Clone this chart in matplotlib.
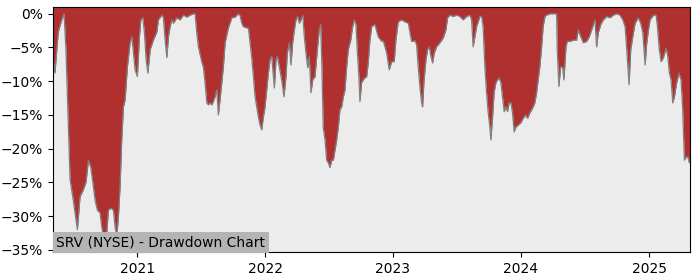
import matplotlib
matplotlib.use("Agg")
import matplotlib.pyplot as plt
import matplotlib.dates as mdates
from matplotlib.ticker import FuncFormatter
import datetime as dt

title = "SRV (NYSE) - Drawdown Chart"

# dates as decimal years, drawdown in percent
years = [
    2020.344, 2020.359, 2020.385, 2020.412, 2020.430, 2020.445, 2020.463, 2020.477, 2020.502, 2020.523,
    2020.534, 2020.555, 2020.580, 2020.602, 2020.620, 2020.638, 2020.654, 2020.672, 2020.690, 2020.711,
    2020.724, 2020.742, 2020.750, 2020.763, 2020.776, 2020.795, 2020.815, 2020.828, 2020.841, 2020.854,
    2020.867, 2020.880, 2020.893, 2020.906, 2020.924, 2020.945, 2020.959, 2020.971, 2020.984, 2021.002,
    2021.018, 2021.029, 2021.045, 2021.057, 2021.070, 2021.084, 2021.102, 2021.127, 2021.154, 2021.166,
    2021.193, 2021.205, 2021.219, 2021.232, 2021.245, 2021.258, 2021.271, 2021.284, 2021.310, 2021.336,
    2021.362, 2021.388, 2021.414, 2021.440, 2021.453, 2021.466, 2021.479, 2021.505, 2021.518, 2021.531,
    2021.545, 2021.557, 2021.570, 2021.584, 2021.596, 2021.609, 2021.623, 2021.635, 2021.648, 2021.662,
    2021.674, 2021.688, 2021.713, 2021.740, 2021.766, 2021.791, 2021.805, 2021.818, 2021.830, 2021.857,
    2021.870, 2021.883, 2021.896, 2021.909, 2021.922, 2021.935, 2021.948, 2021.961, 2021.974, 2021.987,
    2022.000, 2022.013, 2022.026, 2022.039, 2022.052, 2022.065, 2022.073, 2022.086, 2022.096, 2022.112,
    2022.130, 2022.148, 2022.164, 2022.174, 2022.190, 2022.203, 2022.216, 2022.229, 2022.242, 2022.255,
    2022.268, 2022.281, 2022.295, 2022.307, 2022.320, 2022.334, 2022.346, 2022.359, 2022.373, 2022.391,
    2022.409, 2022.424, 2022.435, 2022.445, 2022.455, 2022.469, 2022.482, 2022.495, 2022.508, 2022.521,
    2022.534, 2022.547, 2022.560, 2022.573, 2022.586, 2022.599, 2022.612, 2022.625, 2022.638, 2022.651,
    2022.670, 2022.685, 2022.698, 2022.711, 2022.721, 2022.734, 2022.742, 2022.755, 2022.768, 2022.781,
    2022.795, 2022.807, 2022.820, 2022.834, 2022.859, 2022.885, 2022.912, 2022.924, 2022.951, 2022.971,
    2022.990, 2023.010, 2023.023, 2023.041, 2023.068, 2023.094, 2023.120, 2023.133, 2023.146, 2023.172,
    2023.185, 2023.198, 2023.211, 2023.224, 2023.232, 2023.242, 2023.258, 2023.271, 2023.284, 2023.297,
    2023.310, 2023.323, 2023.341, 2023.367, 2023.393, 2023.414, 2023.427, 2023.445, 2023.471, 2023.498,
    2023.523, 2023.549, 2023.576, 2023.602, 2023.615, 2023.627, 2023.641, 2023.654, 2023.680, 2023.693,
    2023.705, 2023.719, 2023.732, 2023.745, 2023.758, 2023.766, 2023.779, 2023.791, 2023.805, 2023.818,
    2023.830, 2023.844, 2023.857, 2023.870, 2023.883, 2023.896, 2023.909, 2023.922, 2023.935, 2023.948,
    2023.961, 2023.979, 2023.998, 2024.018, 2024.037, 2024.052, 2024.070, 2024.091, 2024.109, 2024.123,
    2024.135, 2024.148, 2024.162, 2024.174, 2024.188, 2024.201, 2024.227, 2024.266, 2024.279, 2024.284,
    2024.297, 2024.310, 2024.326, 2024.336, 2024.352, 2024.362, 2024.383, 2024.409, 2024.435, 2024.448,
    2024.461, 2024.487, 2024.513, 2024.534, 2024.552, 2024.578, 2024.591, 2024.604, 2024.623, 2024.643,
    2024.670, 2024.695, 2024.721, 2024.748, 2024.773, 2024.795, 2024.813, 2024.826, 2024.844, 2024.857,
    2024.873, 2024.891, 2024.916, 2024.935, 2024.951, 2024.969, 2024.982, 2024.995, 2025.008, 2025.034,
    2025.055, 2025.065, 2025.080, 2025.094, 2025.112, 2025.133, 2025.146, 2025.159, 2025.172, 2025.185,
    2025.198, 2025.216, 2025.234, 2025.250, 2025.263, 2025.276, 2025.289, 2025.302, 2025.315, 2025.320,
]

drawdown = [
    -6.5, -8.8, -2.7, -0.9, 0.0, -5.3, -16.2, -24.6, -27.6, -30.5,
    -32.0, -27.1, -26.1, -24.9, -21.7, -22.7, -24.9, -27.6, -29.1, -29.5,
    -31.6, -33.5, -35.0, -32.5, -29.1, -28.8, -29.1, -31.6, -33.0, -30.1,
    -25.6, -18.7, -13.8, -12.8, -7.9, -4.3, -3.4, -5.8, -8.3, -9.3,
    -3.4, -0.9, -0.6, -2.8, -6.8, -8.8, -5.3, -3.9, -2.7, -0.9,
    -0.2, -0.5, -3.9, -6.5, -3.4, -1.9, -0.9, -1.4, -0.6, -0.9,
    -0.2, -0.5, -0.2, 0.0, 0.0, -2.8, -4.9, -7.1, -7.9, -10.2,
    -13.2, -13.5, -13.2, -13.5, -13.0, -12.3, -11.3, -15.0, -12.8, -10.2,
    -7.9, -4.3, -2.1, -0.6, -0.5, 0.0, -0.3, -1.4, -1.9, -2.1,
    -2.1, -4.3, -6.5, -9.3, -12.3, -13.8, -15.3, -16.5, -17.2, -15.3,
    -13.8, -11.3, -8.8, -6.8, -6.3, -9.3, -11.0, -6.8, -6.3, -7.9,
    -9.8, -12.3, -9.3, -5.8, -4.3, -7.6, -4.3, -2.4, -0.9, -0.4,
    -1.4, -0.9, -0.2, -3.4, -5.8, -8.0, -6.3, -11.7, -9.8, -9.3,
    -5.3, -2.4, -1.6, -7.9, -16.8, -18.7, -21.7, -22.1, -22.8, -21.7,
    -21.7, -20.2, -18.7, -16.8, -14.2, -13.8, -12.3, -11.3, -7.9, -5.3,
    -3.9, -1.9, -0.9, -1.6, -5.3, -9.3, -13.0, -10.2, -9.8, -9.5,
    -9.3, -7.2, -3.9, -1.9, -1.6, -3.4, -4.1, -4.0, -5.8, -8.3,
    -7.1, -7.1, -3.9, -1.2, -0.9, -1.2, -1.4, -2.8, -4.1, -4.0,
    -4.6, -7.9, -10.8, -13.2, -13.8, -10.2, -6.8, -5.3, -4.9, -6.3,
    -7.3, -5.8, -4.9, -4.3, -3.6, -2.4, -0.6, -0.2, -0.4, -0.2,
    -0.4, -0.9, -0.4, -0.2, -0.9, -4.9, -3.4, -1.9, -0.4, -0.4,
    -1.9, -7.9, -11.7, -14.7, -16.8, -18.7, -15.3, -11.7, -10.2, -9.8,
    -9.5, -10.2, -12.3, -14.5, -13.8, -14.5, -13.2, -13.2, -14.7, -17.5,
    -16.8, -16.5, -16.2, -15.5, -15.0, -15.5, -14.7, -14.0, -13.2, -11.7,
    -9.8, -7.9, -4.9, -1.9, -0.4, -0.2, 0.0, 0.0, 0.0, -5.3,
    -10.8, -7.9, -7.9, -9.8, -4.9, -4.1, -4.1, -3.9, -3.9, -2.4,
    -3.1, -4.3, -4.1, -3.4, -2.4, -0.9, -4.9, -2.8, -1.6, -0.9,
    -0.4, -0.6, -0.2, 0.0, -0.2, -0.9, -1.9, -5.3, -10.5, -5.3,
    -3.4, -1.4, -0.6, -1.4, -2.8, -7.6, -4.3, -2.4, -0.9, -0.2,
    -0.2, -1.9, -5.3, -7.1, -6.5, -5.1, -6.3, -8.8, -9.8, -13.2,
    -12.3, -10.2, -8.8, -9.8, -14.2, -21.7, -21.2, -21.2, -22.1, -21.5,
]

y_ticks = [0, -5, -10, -15, -20, -25, -30, -35]
x_tick_years = [2021, 2022, 2023, 2024, 2025]


def to_date(y):
    yi = int(y)
    start = dt.datetime(yi, 1, 1)
    length = (dt.datetime(yi + 1, 1, 1) - start).total_seconds()
    return start + dt.timedelta(seconds=(y - yi) * length)


dates = [to_date(y) for y in years]

fig = plt.figure(figsize=(7, 2.8), dpi=100)
ax = fig.add_axes([0.0757, 0.1, 0.91, 0.875])
ax.set_facecolor("#ececec")

top = 1.0
ax.fill_between(dates, drawdown, top, color="#b03030", linewidth=0)
ax.plot(dates, drawdown, color="#808080", linewidth=0.9)

ax.set_ylim(-35.3, top)
ax.set_xlim(dates[0], dates[-1])
ax.set_yticks(y_ticks)
ax.yaxis.set_major_formatter(FuncFormatter(lambda v, p: f"{v:.0f}%".replace("-", "\u2212")))
ax.set_xticks([dt.datetime(y, 1, 1) for y in x_tick_years])
ax.xaxis.set_major_formatter(mdates.DateFormatter("%Y"))
ax.tick_params(labelsize=10)

ax.text(0.005, 0.012, title, transform=ax.transAxes, fontsize=10, ha="left", va="bottom",
        bbox=dict(facecolor="#b4b4b4", edgecolor="none", pad=2.5))

fig.savefig("out.png", dpi=100)
